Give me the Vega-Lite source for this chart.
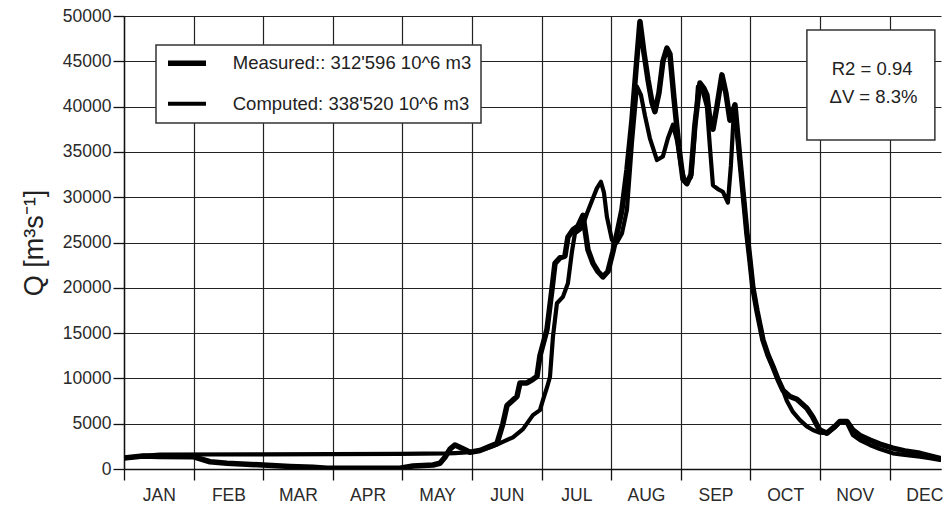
{
  "$schema": "https://vega.github.io/schema/vega-lite/v6.json",
  "autosize": {"type": "none"},
  "padding": {"left": 124, "top": 16, "right": 2, "bottom": 37},
  "width": 817,
  "height": 453,
  "background": "white",
  "config": {
    "view": {"stroke": null},
    "font": "Liberation Sans",
    "axis": {
      "labelFont": "Liberation Sans",
      "labelFontSize": 17.5,
      "labelColor": "#2a2a2a",
      "titleFont": "Liberation Sans",
      "titleColor": "#222",
      "titleFontWeight": "normal",
      "gridColor": "#222",
      "gridWidth": 1.2,
      "gridOpacity": 1,
      "domainColor": "#111",
      "domainWidth": 1.4,
      "tickColor": "#111",
      "tickWidth": 1.3,
      "tickSize": 11
    },
    "legend": {"strokeWidth": 1.5}
  },
  "layer": [
    {
      "data": {"values": [
        {"series": "Measured", "t": 0, "q": 1200},
        {"series": "Measured", "t": 0.273, "q": 1430},
        {"series": "Measured", "t": 0.517, "q": 1380},
        {"series": "Measured", "t": 0.991, "q": 1360},
        {"series": "Measured", "t": 1.236, "q": 800},
        {"series": "Measured", "t": 1.48, "q": 630},
        {"series": "Measured", "t": 1.997, "q": 440},
        {"series": "Measured", "t": 2.385, "q": 280},
        {"series": "Measured", "t": 2.716, "q": 190},
        {"series": "Measured", "t": 2.917, "q": 80},
        {"series": "Measured", "t": 3.391, "q": 80},
        {"series": "Measured", "t": 3.966, "q": 80},
        {"series": "Measured", "t": 4.152, "q": 330},
        {"series": "Measured", "t": 4.44, "q": 440},
        {"series": "Measured", "t": 4.54, "q": 630},
        {"series": "Measured", "t": 4.612, "q": 1300},
        {"series": "Measured", "t": 4.684, "q": 2200},
        {"series": "Measured", "t": 4.756, "q": 2650},
        {"series": "Measured", "t": 4.856, "q": 2300},
        {"series": "Measured", "t": 4.971, "q": 1850},
        {"series": "Measured", "t": 5.115, "q": 2050},
        {"series": "Measured", "t": 5.259, "q": 2500},
        {"series": "Measured", "t": 5.359, "q": 2800},
        {"series": "Measured", "t": 5.445, "q": 5000},
        {"series": "Measured", "t": 5.503, "q": 7000},
        {"series": "Measured", "t": 5.589, "q": 7600},
        {"series": "Measured", "t": 5.647, "q": 8000},
        {"series": "Measured", "t": 5.69, "q": 9500},
        {"series": "Measured", "t": 5.79, "q": 9500},
        {"series": "Measured", "t": 5.876, "q": 9900},
        {"series": "Measured", "t": 5.934, "q": 10200},
        {"series": "Measured", "t": 5.977, "q": 12500},
        {"series": "Measured", "t": 6.078, "q": 15400},
        {"series": "Measured", "t": 6.149, "q": 19800},
        {"series": "Measured", "t": 6.193, "q": 22700},
        {"series": "Measured", "t": 6.264, "q": 23300},
        {"series": "Measured", "t": 6.336, "q": 23500},
        {"series": "Measured", "t": 6.379, "q": 25600},
        {"series": "Measured", "t": 6.451, "q": 26400},
        {"series": "Measured", "t": 6.523, "q": 26800},
        {"series": "Measured", "t": 6.595, "q": 28000},
        {"series": "Measured", "t": 6.667, "q": 24200},
        {"series": "Measured", "t": 6.739, "q": 22700},
        {"series": "Measured", "t": 6.81, "q": 21800},
        {"series": "Measured", "t": 6.882, "q": 21200},
        {"series": "Measured", "t": 6.954, "q": 21800},
        {"series": "Measured", "t": 7.026, "q": 24000},
        {"series": "Measured", "t": 7.098, "q": 26500},
        {"series": "Measured", "t": 7.155, "q": 28600},
        {"series": "Measured", "t": 7.227, "q": 33000},
        {"series": "Measured", "t": 7.299, "q": 38500},
        {"series": "Measured", "t": 7.356, "q": 44000},
        {"series": "Measured", "t": 7.414, "q": 49400},
        {"series": "Measured", "t": 7.471, "q": 46000},
        {"series": "Measured", "t": 7.529, "q": 43000},
        {"series": "Measured", "t": 7.586, "q": 40500},
        {"series": "Measured", "t": 7.629, "q": 39450},
        {"series": "Measured", "t": 7.687, "q": 41500},
        {"series": "Measured", "t": 7.744, "q": 45000},
        {"series": "Measured", "t": 7.802, "q": 46450},
        {"series": "Measured", "t": 7.845, "q": 45800},
        {"series": "Measured", "t": 7.902, "q": 41000},
        {"series": "Measured", "t": 7.974, "q": 35500},
        {"series": "Measured", "t": 8.032, "q": 32000},
        {"series": "Measured", "t": 8.089, "q": 31500},
        {"series": "Measured", "t": 8.147, "q": 32500},
        {"series": "Measured", "t": 8.204, "q": 38000},
        {"series": "Measured", "t": 8.276, "q": 42600},
        {"series": "Measured", "t": 8.333, "q": 42000},
        {"series": "Measured", "t": 8.376, "q": 41300},
        {"series": "Measured", "t": 8.42, "q": 38500},
        {"series": "Measured", "t": 8.463, "q": 37500},
        {"series": "Measured", "t": 8.52, "q": 40000},
        {"series": "Measured", "t": 8.592, "q": 43500},
        {"series": "Measured", "t": 8.649, "q": 41500},
        {"series": "Measured", "t": 8.707, "q": 38500},
        {"series": "Measured", "t": 8.779, "q": 40200},
        {"series": "Measured", "t": 8.851, "q": 34100},
        {"series": "Measured", "t": 8.908, "q": 29500},
        {"series": "Measured", "t": 8.951, "q": 26000},
        {"series": "Measured", "t": 8.994, "q": 23100},
        {"series": "Measured", "t": 9.037, "q": 20000},
        {"series": "Measured", "t": 9.095, "q": 17500},
        {"series": "Measured", "t": 9.181, "q": 14250},
        {"series": "Measured", "t": 9.253, "q": 12600},
        {"series": "Measured", "t": 9.325, "q": 11300},
        {"series": "Measured", "t": 9.397, "q": 9900},
        {"series": "Measured", "t": 9.468, "q": 8700},
        {"series": "Measured", "t": 9.569, "q": 8000},
        {"series": "Measured", "t": 9.67, "q": 7700},
        {"series": "Measured", "t": 9.813, "q": 6700},
        {"series": "Measured", "t": 9.899, "q": 5700},
        {"series": "Measured", "t": 9.957, "q": 4850},
        {"series": "Measured", "t": 10.0, "q": 4300},
        {"series": "Measured", "t": 10.101, "q": 3950},
        {"series": "Measured", "t": 10.216, "q": 4700},
        {"series": "Measured", "t": 10.287, "q": 5250},
        {"series": "Measured", "t": 10.388, "q": 5250},
        {"series": "Measured", "t": 10.474, "q": 4300},
        {"series": "Measured", "t": 10.575, "q": 3700},
        {"series": "Measured", "t": 10.718, "q": 3200},
        {"series": "Measured", "t": 10.862, "q": 2750},
        {"series": "Measured", "t": 11.049, "q": 2300},
        {"series": "Measured", "t": 11.221, "q": 2000},
        {"series": "Measured", "t": 11.437, "q": 1730},
        {"series": "Measured", "t": 11.58, "q": 1450},
        {"series": "Measured", "t": 11.724, "q": 1180},
        {"series": "Computed", "t": 0, "q": 1200},
        {"series": "Computed", "t": 0.273, "q": 1450},
        {"series": "Computed", "t": 0.517, "q": 1600},
        {"series": "Computed", "t": 1.997, "q": 1620},
        {"series": "Computed", "t": 3.966, "q": 1680},
        {"series": "Computed", "t": 4.641, "q": 1730},
        {"series": "Computed", "t": 4.756, "q": 1760},
        {"series": "Computed", "t": 4.971, "q": 1850},
        {"series": "Computed", "t": 5.115, "q": 2050},
        {"series": "Computed", "t": 5.259, "q": 2400},
        {"series": "Computed", "t": 5.359, "q": 2700},
        {"series": "Computed", "t": 5.474, "q": 3100},
        {"series": "Computed", "t": 5.589, "q": 3500},
        {"series": "Computed", "t": 5.733, "q": 4400},
        {"series": "Computed", "t": 5.876, "q": 5950},
        {"series": "Computed", "t": 5.977, "q": 6500},
        {"series": "Computed", "t": 6.02, "q": 7600},
        {"series": "Computed", "t": 6.078, "q": 9000},
        {"series": "Computed", "t": 6.121, "q": 10150},
        {"series": "Computed", "t": 6.164, "q": 14600},
        {"series": "Computed", "t": 6.221, "q": 18300},
        {"series": "Computed", "t": 6.307, "q": 19000},
        {"series": "Computed", "t": 6.379, "q": 20500},
        {"series": "Computed", "t": 6.437, "q": 24000},
        {"series": "Computed", "t": 6.48, "q": 26000},
        {"series": "Computed", "t": 6.58, "q": 26600},
        {"series": "Computed", "t": 6.652, "q": 28200},
        {"series": "Computed", "t": 6.724, "q": 29600},
        {"series": "Computed", "t": 6.796, "q": 31000},
        {"series": "Computed", "t": 6.853, "q": 31700},
        {"series": "Computed", "t": 6.897, "q": 30500},
        {"series": "Computed", "t": 6.94, "q": 27800},
        {"series": "Computed", "t": 7.011, "q": 25300},
        {"series": "Computed", "t": 7.083, "q": 25000},
        {"series": "Computed", "t": 7.155, "q": 26000},
        {"series": "Computed", "t": 7.227, "q": 28600},
        {"series": "Computed", "t": 7.299, "q": 36000},
        {"series": "Computed", "t": 7.371, "q": 42200},
        {"series": "Computed", "t": 7.428, "q": 41300},
        {"series": "Computed", "t": 7.486, "q": 39000},
        {"series": "Computed", "t": 7.557, "q": 36500},
        {"series": "Computed", "t": 7.658, "q": 34100},
        {"series": "Computed", "t": 7.744, "q": 34500},
        {"series": "Computed", "t": 7.816, "q": 36500},
        {"series": "Computed", "t": 7.888, "q": 38000},
        {"series": "Computed", "t": 7.945, "q": 36300},
        {"series": "Computed", "t": 8.003, "q": 33500},
        {"series": "Computed", "t": 8.06, "q": 31700},
        {"series": "Computed", "t": 8.147, "q": 32200},
        {"series": "Computed", "t": 8.19, "q": 36000},
        {"series": "Computed", "t": 8.247, "q": 42200},
        {"series": "Computed", "t": 8.305, "q": 42000},
        {"series": "Computed", "t": 8.376, "q": 40000},
        {"series": "Computed", "t": 8.42, "q": 35500},
        {"series": "Computed", "t": 8.463, "q": 31300},
        {"series": "Computed", "t": 8.534, "q": 30900},
        {"series": "Computed", "t": 8.606, "q": 30600},
        {"series": "Computed", "t": 8.678, "q": 29400},
        {"series": "Computed", "t": 8.721, "q": 33500},
        {"series": "Computed", "t": 8.764, "q": 39500},
        {"series": "Computed", "t": 8.807, "q": 37500},
        {"series": "Computed", "t": 8.851, "q": 34100},
        {"series": "Computed", "t": 8.908, "q": 29500},
        {"series": "Computed", "t": 8.951, "q": 26000},
        {"series": "Computed", "t": 8.994, "q": 23100},
        {"series": "Computed", "t": 9.037, "q": 20000},
        {"series": "Computed", "t": 9.095, "q": 17500},
        {"series": "Computed", "t": 9.181, "q": 14250},
        {"series": "Computed", "t": 9.253, "q": 12600},
        {"series": "Computed", "t": 9.325, "q": 11300},
        {"series": "Computed", "t": 9.397, "q": 9900},
        {"series": "Computed", "t": 9.468, "q": 8700},
        {"series": "Computed", "t": 9.526, "q": 7500},
        {"series": "Computed", "t": 9.612, "q": 6300},
        {"series": "Computed", "t": 9.713, "q": 5400},
        {"series": "Computed", "t": 9.813, "q": 4700},
        {"series": "Computed", "t": 9.899, "q": 4300},
        {"series": "Computed", "t": 10.0, "q": 4000},
        {"series": "Computed", "t": 10.101, "q": 3950},
        {"series": "Computed", "t": 10.216, "q": 4600},
        {"series": "Computed", "t": 10.287, "q": 5150},
        {"series": "Computed", "t": 10.388, "q": 5100},
        {"series": "Computed", "t": 10.474, "q": 3750},
        {"series": "Computed", "t": 10.575, "q": 3200},
        {"series": "Computed", "t": 10.718, "q": 2650},
        {"series": "Computed", "t": 10.862, "q": 2200},
        {"series": "Computed", "t": 11.049, "q": 1730},
        {"series": "Computed", "t": 11.221, "q": 1550},
        {"series": "Computed", "t": 11.437, "q": 1360},
        {"series": "Computed", "t": 11.58, "q": 1200},
        {"series": "Computed", "t": 11.724, "q": 1000}
      ]},
      "mark": {"type": "line", "color": "black", "strokeJoin": "round", "strokeCap": "round", "clip": true},
      "encoding": {
        "x": {
          "field": "t", "type": "quantitative",
          "scale": {"domain": [0, 11.74], "nice": false, "zero": false},
          "axis": {
            "title": null,
            "values": [0, 1, 2, 3, 4, 5, 6, 7, 8, 9, 10, 11],
            "labelExpr": "['JAN','FEB','MAR','APR','MAY','JUN','JUL','AUG','SEP','OCT','NOV','DEC'][datum.value]",
            "labelOffset": 34.8,
            "labelFlush": false,
            "labelOverlap": false,
            "labelBound": false,
            "labelPadding": 6,
            "grid": true
          }
        },
        "y": {
          "field": "q", "type": "quantitative",
          "scale": {"domain": [0, 50000], "nice": false},
          "axis": {
            "title": "Q [m³s⁻¹]",
            "titleFontSize": 27,
            "titlePadding": 14,
            "values": [0, 5000, 10000, 15000, 20000, 25000, 30000, 35000, 40000, 45000, 50000],
            "format": "d",
            "labelPadding": 2,
            "labelOverlap": false,
            "grid": true
          }
        },
        "detail": {"field": "series"},
        "strokeWidth": {
          "field": "series", "type": "ordinal",
          "scale": {"domain": ["Measured", "Computed"], "range": [5.5, 4.2]},
          "legend": {
            "title": null,
            "orient": "none",
            "legendX": 32,
            "legendY": 29,
            "padding": 9,
            "rowPadding": 19.5,
            "fillColor": "white",
            "strokeColor": "#333",
            "symbolType": "M-4,0H4",
            "symbolSize": 90.25,
            "symbolStrokeColor": "black",
            "symbolFillColor": "black",
            "symbolOffset": 12.75,
            "labelOffset": 36.5,
            "labelFont": "Liberation Sans",
            "labelFontSize": 18.5,
            "labelColor": "#222",
            "labelLimit": 500,
            "labelExpr": "datum.value == 'Measured' ? \"Measured:: 312'596 10^6 m3\u00a0\u00a0\u00a0\" : \"Computed: 338'520 10^6 m3\u00a0\u00a0\u00a0\u00a0\""
          }
        }
      }
    },
    {
      "data": {"values": [{"box": "stats"}]},
      "mark": {"type": "rect", "fill": "white", "stroke": "#333", "strokeWidth": 1.5},
      "encoding": {
        "x": {"datum": 9.813, "type": "quantitative"},
        "x2": {"datum": 11.652},
        "y": {"datum": 48455, "type": "quantitative"},
        "y2": {"datum": 36313}
      }
    },
    {
      "data": {"values": [{"label": "R2 = 0.94"}]},
      "mark": {"type": "text", "align": "center", "baseline": "alphabetic", "font": "Liberation Sans", "fontSize": 18.5, "color": "#222"},
      "encoding": {
        "x": {"datum": 10.75, "type": "quantitative"},
        "y": {"datum": 43488, "type": "quantitative"},
        "text": {"field": "label"}
      }
    },
    {
      "data": {"values": [{"label": "ΔV = 8.3%"}]},
      "mark": {"type": "text", "align": "center", "baseline": "alphabetic", "font": "Liberation Sans", "fontSize": 18.5, "color": "#222"},
      "encoding": {
        "x": {"datum": 10.77, "type": "quantitative"},
        "y": {"datum": 40365, "type": "quantitative"},
        "text": {"field": "label"}
      }
    }
  ]
}
